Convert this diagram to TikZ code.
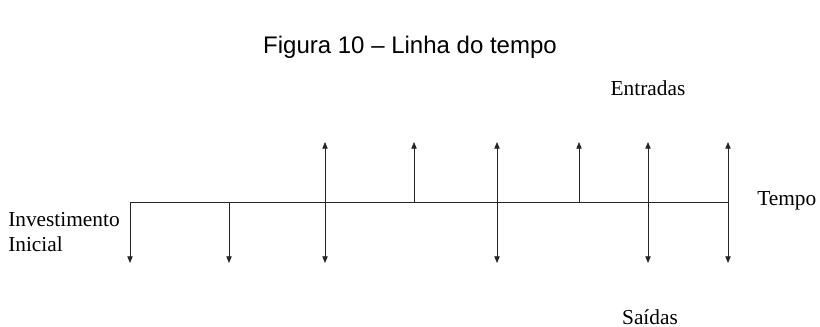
\documentclass[tikz,border=0pt]{standalone}
\usepackage{fontspec}
\setmainfont{Liberation Serif}
\newfontfamily\titlefont{Liberation Sans}
\usetikzlibrary{arrows.meta}

\begin{document}
\begin{tikzpicture}[x=0.75pt,y=-0.75pt,>={Triangle[length=5pt,width=4pt]},
  flow/.style={->,black!85,line width=0.6pt},
  lbl/.style={inner sep=0pt,font=\fontsize{16}{18.75}\selectfont}]
  \useasboundingbox (0,0) rectangle (820,327);
  % title
  \node[inner sep=0pt,font=\titlefont\fontsize{18}{22}\selectfont] (title) at (410,47)
    {Figura 10 – Linha do tempo};
  % points on the time axis and the free ends of the arrows
  \foreach \i/\x in {0/130,1/229,2/325,3/414,4/497,5/579,6/648,7/728} {
    \coordinate (p\i) at (\x,202.5);
    \coordinate (u\i) at (\x,142);
    \coordinate (d\i) at (\x,263);
  }
  % time axis
  \draw[black!85,line width=0.6pt] (p0) -- (p7);
  % inflows (up) and outflows (down)
  \foreach \i in {2,...,7} \draw[flow] (p\i) -- (u\i);
  \foreach \i in {0,1,2,4,6,7} \draw[flow] (p\i) -- (d\i);
  % labels
  \node[lbl] (entradas) at (648,88) {Entradas};
  \node[lbl] (saidas) at (650,317) {Saídas};
  \node[lbl,anchor=west] (tempo) at (757,201) {Tempo};
  \node[lbl,anchor=west,align=left] (invest) at (8,232) {Investimento\\Inicial};
\end{tikzpicture}
\end{document}
